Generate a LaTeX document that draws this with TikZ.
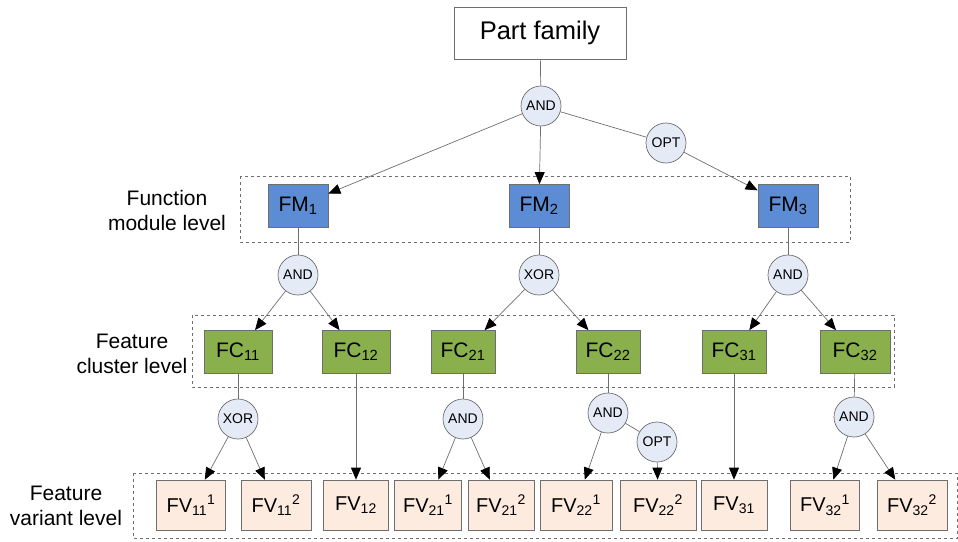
\documentclass[tikz,border=0pt]{standalone}
\usepackage{fontspec}
\setmainfont{Liberation Sans}
\usetikzlibrary{arrows.meta}
\definecolor{fmblue}{RGB}{92,140,212}
\definecolor{fcgreen}{RGB}{138,176,78}
\definecolor{fvpeach}{RGB}{252,235,222}
\definecolor{gatefill}{RGB}{228,234,246}
\definecolor{edgegray}{RGB}{110,110,110}
\begin{document}
\begin{tikzpicture}[x=1pt,y=-1pt,
  boxbase/.style={draw=edgegray,line width=0.7pt,inner sep=0pt,anchor=center},
  topbox/.style={boxbase,fill=white,minimum width=172pt,minimum height=52pt,font=\fontsize{25.5}{28}\selectfont},
  fmbox/.style={boxbase,fill=fmblue,minimum width=60pt,minimum height=43pt,font=\fontsize{21}{24}\selectfont},
  fcbox/.style={boxbase,fill=fcgreen,minimum width=66pt,minimum height=43pt,font=\fontsize{21}{24}\selectfont},
  fvbox/.style={boxbase,fill=fvpeach,minimum width=68pt,minimum height=50pt,font=\fontsize{20}{24}\selectfont},
  gate/.style={circle,draw=edgegray,line width=0.7pt,fill=gatefill,minimum size=40pt,inner sep=0pt,font=\fontsize{14}{16}\selectfont},
  levelframe/.style={draw=edgegray,dashed,line width=0.7pt},
  leveltext/.style={align=center,font=\fontsize{21}{25}\selectfont},
  link/.style={draw=edgegray,line width=0.7pt},
  arr/.style={link,arrows={-{Triangle[length=12pt,width=10pt,fill=black,color=black]}}}
]
\useasboundingbox (0,0) rectangle (958,541);

% level frames
\draw[levelframe] (240,176) rectangle (850,242);
\draw[levelframe] (192,315) rectangle (894,387);
\draw[levelframe] (133,473) rectangle (957.5,538);

% level labels
\node[leveltext] (lfm) at (167,210) {Function\\module level};
\node[leveltext] (lfc) at (132,354) {Feature\\cluster level};
\node[leveltext] (lfv) at (66,506) {Feature\\variant level};

% top
\node[topbox] (pf) at (540,33) {Part family};
\node[gate] (g0) at (541,106) {AND};
\node[gate] (g0o) at (666,143) {OPT};

% function modules
\node[fmbox] (fm1) at (298,206) {FM\textsubscript{1}};
\node[fmbox] (fm2) at (539,206) {FM\textsubscript{2}};
\node[fmbox] (fm3) at (788,206) {FM\textsubscript{3}};

\node[gate] (g1) at (298,275) {AND};
\node[gate] (g2) at (539,275) {XOR};
\node[gate] (g3) at (788,275) {AND};

% feature clusters
\node[fcbox,minimum width=68pt] (fc11) at (238,352) {FC\textsubscript{11}};
\node[fcbox,minimum width=68pt] (fc12) at (356,352) {FC\textsubscript{12}};
\node[fcbox,minimum width=64pt] (fc21) at (463,352) {FC\textsubscript{21}};
\node[fcbox,minimum width=64pt] (fc22) at (608,352) {FC\textsubscript{22}};
\node[fcbox,minimum width=64pt] (fc31) at (734,352) {FC\textsubscript{31}};
\node[fcbox,minimum width=70pt] (fc32) at (855,352) {FC\textsubscript{32}};

\node[gate] (g11) at (238,419) {XOR};
\node[gate] (g21) at (463,419) {AND};
\node[gate] (g22) at (608,413) {AND};
\node[gate] (g22o) at (657,442) {OPT};
\node[gate] (g32) at (854,417) {AND};

% feature variants
\node[fvbox,minimum width=69pt] (fv111) at (191,505) {FV\textsubscript{11}\textsuperscript{1}};
\node[fvbox,minimum width=70pt] (fv112) at (276,505) {FV\textsubscript{11}\textsuperscript{2}};
\node[fvbox,minimum width=65pt] (fv12) at (356,505) {FV\textsubscript{12}};
\node[fvbox,minimum width=67pt] (fv211) at (428,505) {FV\textsubscript{21}\textsuperscript{1}};
\node[fvbox,minimum width=66pt] (fv212) at (501,505) {FV\textsubscript{21}\textsuperscript{2}};
\node[fvbox,minimum width=72pt] (fv221) at (576,505) {FV\textsubscript{22}\textsuperscript{1}};
\node[fvbox,minimum width=76pt] (fv222) at (658,505) {FV\textsubscript{22}\textsuperscript{2}};
\node[fvbox,minimum width=66pt] (fv31) at (734,505) {FV\textsubscript{31}};
\node[fvbox,minimum width=69pt] (fv321) at (825,505) {FV\textsubscript{32}\textsuperscript{1}};
\node[fvbox,minimum width=70pt] (fv322) at (912,505) {FV\textsubscript{32}\textsuperscript{2}};

% connectors
\draw[link] (pf) -- (g0);
\draw[arr] (g0) -- (fm1);
\draw[arr] (g0) -- (fm2);
\draw[link] (g0) -- (g0o);
\draw[arr] (g0o) -- (fm3);

\draw[link] (fm1) -- (g1);
\draw[link] (fm2) -- (g2);
\draw[link] (fm3) -- (g3);
\draw[arr] (g1) -- (fc11);
\draw[arr] (g1) -- (fc12);
\draw[arr] (g2) -- (fc21);
\draw[arr] (g2) -- (fc22);
\draw[arr] (g3) -- (fc31);
\draw[arr] (g3) -- (fc32);

\draw[link] (fc11) -- (g11);
\draw[arr] (g11) -- (fv111);
\draw[arr] (g11) -- (fv112);
\draw[arr] (fc12) -- (fv12);
\draw[link] (fc21) -- (g21);
\draw[arr] (g21) -- (fv211);
\draw[arr] (g21) -- (fv212);
\draw[link] (fc22) -- (g22);
\draw[arr] (g22) -- (fv221);
\draw[link] (g22) -- (g22o);
\draw[arr] (g22o) -- (fv222);
\draw[arr] (fc31) -- (fv31);
\draw[link] (fc32) -- (g32);
\draw[arr] (g32) -- (fv321);
\draw[arr] (g32) -- (fv322);
\end{tikzpicture}
\end{document}
